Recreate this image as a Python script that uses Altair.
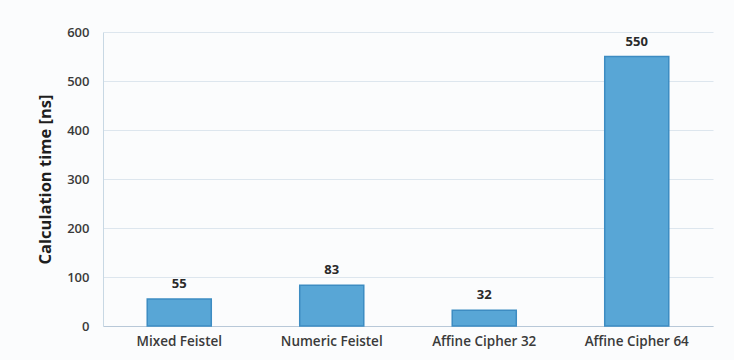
import altair as alt
import pandas as pd

methods = ["Mixed Feistel", "Numeric Feistel", "Affine Cipher 32", "Affine Cipher 64"]
times_ns = [55, 83, 32, 550]

df = pd.DataFrame({"method": methods, "time": times_ns})

font = "Open Sans"
text_color = "#3a3a3a"

base = alt.Chart(df).encode(
    x=alt.X(
        "method:N",
        sort=methods,
        title=None,
        scale=alt.Scale(paddingInner=0.58, paddingOuter=0.29),
        axis=alt.Axis(
            labelAngle=0,
            labelFont=font,
            labelFontSize=13.5,
            labelFontWeight=600,
            labelColor=text_color,
            labelPadding=8,
            ticks=False,
            domainColor="#b8c8d8",
        ),
    ),
    y=alt.Y(
        "time:Q",
        title="Calculation time [ns]",
        scale=alt.Scale(domain=[0, 600]),
        axis=alt.Axis(
            values=[0, 100, 200, 300, 400, 500, 600],
            labelFont=font,
            labelFontSize=13,
            labelFontWeight=600,
            labelColor=text_color,
            labelPadding=14,
            ticks=False,
            domainColor="#c8d8e4",
            gridColor="#dde6ee",
            titleFont=font,
            titleFontSize=16.5,
            titleFontWeight="bold",
            titleColor="#1e1e1e",
            titlePadding=13,
        ),
    ),
)

bars = base.mark_bar(color="#58a6d6", stroke="#3d8cc2", strokeWidth=1.5)

labels = base.mark_text(
    dy=-15, font=font, fontSize=13, fontWeight="bold", color="#2a2a2a"
).encode(text="time:Q")

chart = (
    (bars + labels)
    .properties(
        width=610,
        height=294,
        background="#fbfcfd",
        padding={"left": 103, "top": 32, "right": 21, "bottom": 34},
        autosize=alt.AutoSizeParams(type="none"),
    )
    .configure_view(stroke=None)
)

chart.save("out.html", embed_options={"renderer": "svg", "actions": False})
